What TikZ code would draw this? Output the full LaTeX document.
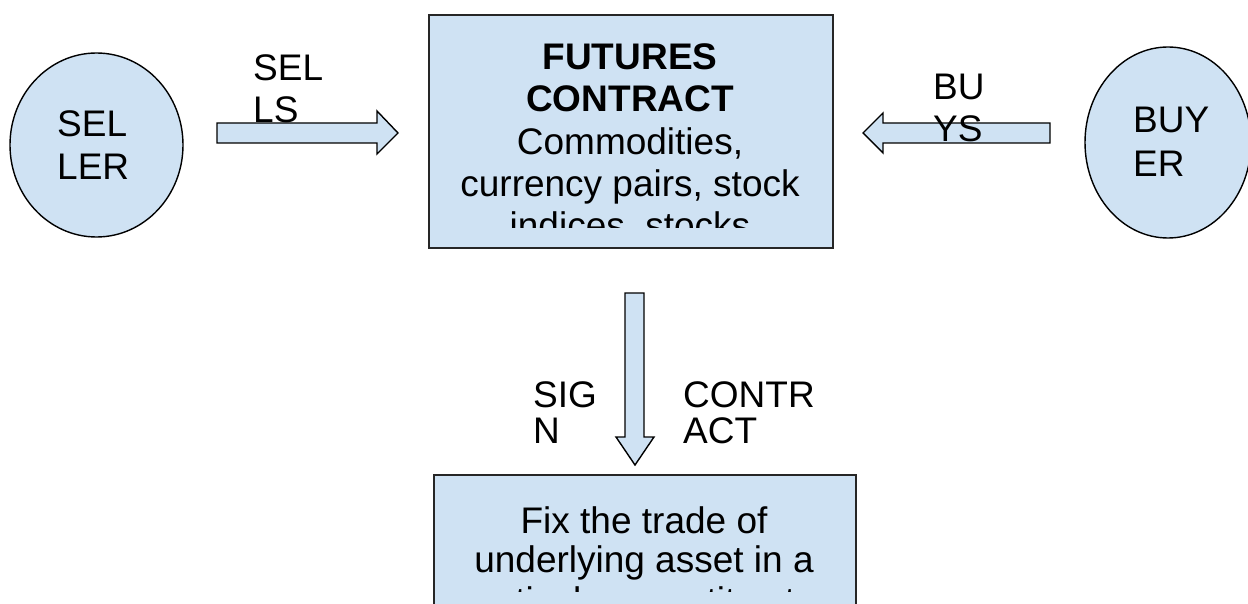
\documentclass[tikz,border=0pt]{standalone}
\usepackage{fontspec}
\setmainfont{Liberation Sans}
\usetikzlibrary{shapes.geometric}
\definecolor{lb}{HTML}{CFE2F3}
\begin{document}
\begin{tikzpicture}[x=1pt,y=-1pt,
  shp/.style={fill=lb, draw=black, line width=1.4pt, line join=miter},
  boxshape/.style={fill=lb, draw=black!85, line width=2pt, inner sep=0pt, anchor=north west},
  ell/.style={ellipse, fill=lb, draw=black, line width=1.4pt, inner sep=0pt},
  txt/.style={inner sep=0pt, font=\fontsize{37}{42}\selectfont, anchor=base},
  lbl/.style={txt, anchor=base west}]
\useasboundingbox (0,0) rectangle (1248,604);
\clip (0,0) rectangle (1248,604);

% seller
\node[ell, minimum width=173pt, minimum height=184pt] (seller) at (96.5,145) {};
\node[lbl] (sel1) at (57,137) {SEL};
\node[lbl] (sel2) at (57,180) {LER};

% buyer
\node[ell, minimum width=166pt, minimum height=191pt] (buyer) at (1168,142.5) {};
\node[lbl] (buy1) at (1133,133) {BUY};
\node[lbl] (buy2) at (1133,177) {ER};

% futures box
\node[boxshape, minimum width=404pt, minimum height=233pt] (fut) at (428,14) {};
\begin{scope}
\clip (428,14) rectangle (832,228);
\node[txt, font=\fontsize{37}{42}\selectfont\bfseries] (f1) at (630,70) {FUTURES};
\node[txt, font=\fontsize{37}{42}\selectfont\bfseries] (f2) at (630,112) {CONTRACT};
\node[txt] (f3) at (630,155) {Commodities,};
\node[txt] (f4) at (630,197) {currency pairs, stock};
\node[txt] (f5) at (630,239) {indices, stocks};
\end{scope}

% fix box
\node[boxshape, minimum width=422pt, minimum height=200pt] (fix) at (433,474) {};
\begin{scope}
\clip (433,474) rectangle (855,591);
\node[txt] (x1) at (644,533) {Fix the trade of};
\node[txt] (x2) at (644,572) {underlying asset in a};
\node[txt] (x3) at (644,613) {particular quantity at a};
\end{scope}

% sells arrow
\draw[shp] (217,123) -- (377,123) -- (377,111) -- (398,133) -- (377,154) -- (377,143) -- (217,143) -- cycle;
\node[lbl] (sl1) at (253,81) {SEL};
\node[lbl] (sl2) at (253,123) {LS};

% buys arrow
\draw[shp] (1050,123) -- (883,123) -- (883,113) -- (863,133) -- (883,153) -- (883,143) -- (1050,143) -- cycle;
\node[lbl] (by1) at (933,100) {BU};
\node[lbl] (by2) at (933,142) {YS};

% sign arrow
\draw[shp] (625,293) -- (644,293) -- (644,437) -- (654,437) -- (635,465) -- (616,437) -- (625,437) -- cycle;
\node[lbl] (sg1) at (533,407) {SIG};
\node[lbl] (sg2) at (533,443) {N};
\node[lbl] (ct1) at (683,407) {CONTR};
\node[lbl] (ct2) at (683,443) {ACT};
\end{tikzpicture}
\end{document}
